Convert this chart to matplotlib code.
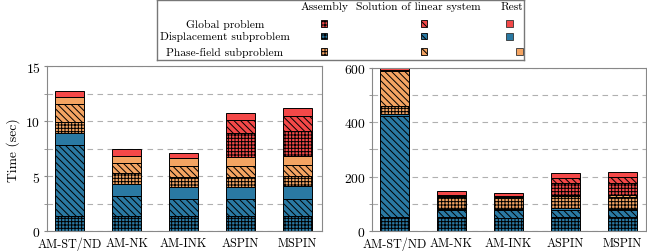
import matplotlib
matplotlib.use("Agg")
import matplotlib.pyplot as plt
from matplotlib.patches import Rectangle
from matplotlib.ticker import MultipleLocator

plt.rcParams['font.family'] = ['cmr10', 'DejaVu Serif']
plt.rcParams['mathtext.fontset'] = 'cm'
plt.rcParams['axes.formatter.use_mathtext'] = True
plt.rcParams['hatch.linewidth'] = 0.7

methods = ["AM-ST/ND", "AM-NK", "AM-INK", "ASPIN", "MSPIN"]

# left panel (sec)
l_disp_asm = [1.36, 1.36, 1.36, 1.36, 1.36]
l_disp_sol = [6.46, 1.82, 1.55, 1.55, 1.61]
l_disp_rest = [1.15, 1.15, 1.15, 1.15, 1.15]
l_pf_asm = [0.94, 0.94, 0.85, 0.91, 0.94]
l_pf_sol = [1.64, 0.91, 1.00, 0.94, 0.94]
l_pf_rest = [0.69, 0.70, 0.73, 0.88, 0.88]
l_glob_asm = [0, 0, 0, 2.18, 2.21]
l_glob_sol = [0, 0, 0, 1.12, 1.43]
l_glob_rest = [0.52, 0.57, 0.45, 0.64, 0.66]

# right panel (sec)
r_disp_asm = [53, 51, 50, 51, 51]
r_disp_sol = [368, 28, 27, 28, 27]
r_disp_rest = [8, 4, 4, 5, 4]
r_pf_asm = [32, 41, 40, 44, 45]
r_pf_sol = [125, 6, 6, 3, 5]
r_pf_rest = [5, 3, 3, 2, 2]
r_glob_asm = [0, 0, 0, 44, 42]
r_glob_sol = [0, 0, 0, 17, 22]
r_glob_rest = [9, 13, 10, 18, 21]

blue = "#2a79a3"
orange = "#f4a462"
red = "#f44848"
h_asm = "+++++"
h_sol = "\\\\\\\\\\"

def stack(ax, parts):
    x = list(range(len(methods)))
    bottom = [0.0] * len(methods)
    for vals, col, hatch in parts:
        ax.bar(x, vals, 0.5, bottom=bottom, color=col, hatch=hatch,
               edgecolor="black", linewidth=0.7)
        bottom = [b + v for b, v in zip(bottom, vals)]
    ax.set_xticks(x)
    ax.set_xticklabels(methods)
    ax.set_xlim(-0.4, 4.42)
    ax.tick_params(axis="x", length=0, pad=4, labelsize=8.8)
    ax.tick_params(axis="y", which="both", direction="out", length=2.5,
                   color="#888888", labelsize=9.8, pad=2)
    ax.yaxis.grid(True, which="both", linestyle=(0, (5, 4)), color="#b0b0b0", lw=0.8)
    ax.set_axisbelow(True)
    for s in ax.spines.values():
        s.set_color("#888888")
        s.set_linewidth(0.8)

fig = plt.figure(figsize=(6.47, 2.53), dpi=100)
ax1 = fig.add_axes([0.0722, 0.0818, 0.425, 0.652])
ax2 = fig.add_axes([0.5745, 0.0818, 0.4245, 0.647])

stack(ax1, [(l_disp_asm, blue, h_asm), (l_disp_sol, blue, h_sol), (l_disp_rest, blue, None),
            (l_pf_asm, orange, h_asm), (l_pf_sol, orange, h_sol), (l_pf_rest, orange, None),
            (l_glob_asm, red, h_asm), (l_glob_sol, red, h_sol), (l_glob_rest, red, None)])
ax1.set_ylim(0, 15)
ax1.yaxis.set_major_locator(MultipleLocator(5))
ax1.yaxis.set_minor_locator(MultipleLocator(2.5))
ax1.set_ylabel("Time (sec)", fontsize=9.8, labelpad=4)

stack(ax2, [(r_disp_asm, blue, h_asm), (r_disp_sol, blue, h_sol), (r_disp_rest, blue, None),
            (r_pf_asm, orange, h_asm), (r_pf_sol, orange, h_sol), (r_pf_rest, orange, None),
            (r_glob_asm, red, h_asm), (r_glob_sol, red, h_sol), (r_glob_rest, red, None)])
ax2.set_ylim(0, 600)
ax2.yaxis.set_major_locator(MultipleLocator(200))
ax2.yaxis.set_minor_locator(MultipleLocator(100))

# legend table
lg = fig.add_axes([157 / 647, 1 - 61 / 253, 367 / 647, 60 / 253])
lg.set_xlim(0, 367)
lg.set_ylim(60, 0)
lg.set_xticks([])
lg.set_yticks([])
for s in lg.spines.values():
    s.set_color("#777777")
    s.set_linewidth(1.0)

fs = 8.3
lg.text(168, 6, "Assembly", ha="center", va="center", fontsize=fs)
lg.text(261, 6, "Solution of linear system", ha="center", va="center", fontsize=fs)
lg.text(355, 6, "Rest", ha="center", va="center", fontsize=fs)
rows = [("Global problem", red, 23.5, 352), ("Displacement subproblem", blue, 36.0, 352),
        ("Phase-field subproblem", orange, 51.5, 362)]
for label, col, y, xr in rows:
    lg.text(68, y, label, ha="center", va="center", fontsize=fs)
    lg.add_patch(Rectangle((164, y - 3.2), 6, 6.5, facecolor=col, hatch=h_asm,
                           edgecolor="black", linewidth=0.6))
    lg.add_patch(Rectangle((264, y - 3.2), 6, 6.5, facecolor=col, hatch=h_sol,
                           edgecolor="black", linewidth=0.6))
    lg.add_patch(Rectangle((xr - 3.5, y - 3.5), 7, 7, facecolor=col,
                           edgecolor="#333333", linewidth=0.6))

fig.savefig("out.png", dpi=100)
